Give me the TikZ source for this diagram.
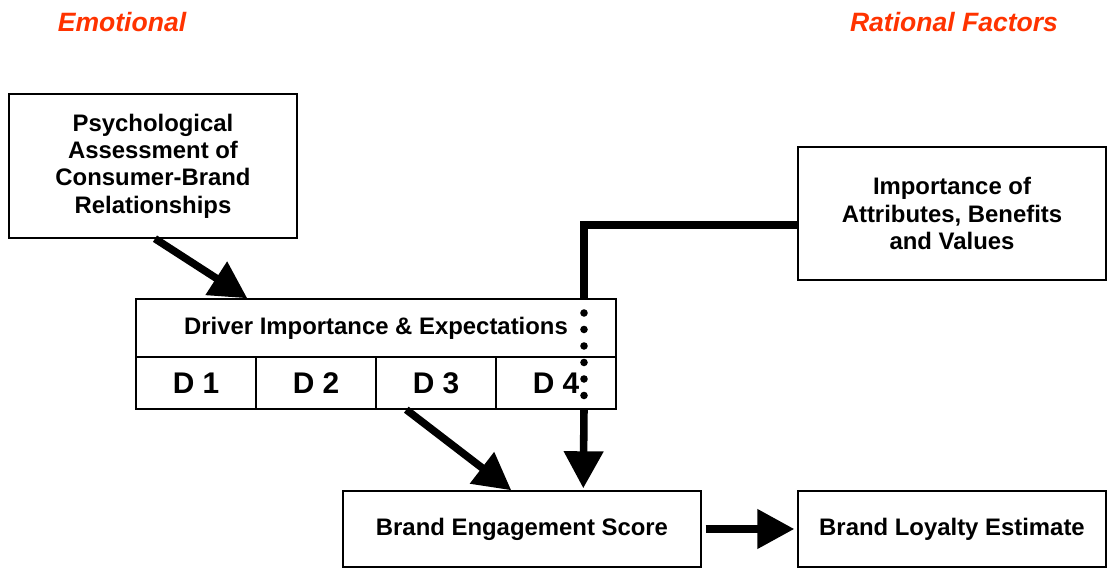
\documentclass[tikz,border=0pt]{standalone}
\usepackage{fontspec}
\setmainfont{Liberation Sans}
\usetikzlibrary{arrows.meta}
\definecolor{titlered}{RGB}{255,51,0}

\begin{document}
\begin{tikzpicture}[x=0.02cm, y=-0.02cm,
  box/.style={draw, line width=0.8pt, align=center, inner sep=0pt, font=\bfseries\fontsize{13.6}{15.6}\selectfont},
  cell/.style={draw, line width=0.8pt, inner sep=0pt, minimum width=2.4cm, minimum height=1.04cm, font=\bfseries\fontsize{17}{20}\selectfont},
  bigarrow/.style={line width=4.3pt, -{Triangle[length=0.74cm, width=0.76cm]}},
  title/.style={font=\bfseries\itshape\fontsize{15.1}{18}\selectfont, text=titlered}]
\useasboundingbox (0,0) rectangle (1110,573);
% Ueberschriften
\node[title] (emo) at (122,22) {Emotional};
\node[title] (rat) at (954,22) {Rational Factors};
% Kaesten
\node[box, minimum width=5.76cm, minimum height=2.88cm] (psych) at (153,166) {Psychological\\Assessment of\\Consumer-Brand\\Relationships};
\node[box, minimum width=6.16cm, minimum height=2.66cm] (imp) at (952,213.5) {Importance of\\Attributes, Benefits\\and Values};
\node[box, minimum width=9.6cm, minimum height=1.16cm] (driver) at (376,328) {Driver Importance \& Expectations};
\node[cell] (d1) at (196,383) {D 1};
\node[cell] (d2) at (316,383) {D 2};
\node[cell] (d3) at (436,383) {D 3};
\node[cell] (d4) at (556,383) {D 4};
\node[box, minimum width=7.16cm, minimum height=1.52cm] (engage) at (522,529) {Brand Engagement Score};
\node[box, minimum width=6.16cm, minimum height=1.52cm] (loyal) at (952,529) {Brand Loyalty Estimate};
% Verbindungen
\coordinate (dtop) at (584,299);
\coordinate (dbot) at (584,410);
\draw[bigarrow] ([xshift=0.04cm]psych.south) -- ([xshift=2.24cm]driver.north west);
\draw[bigarrow] ([xshift=0.62cm]d3.south west) -- ([xshift=3.38cm]engage.north west);
\draw[line width=4.3pt] ([yshift=-0.23cm]imp.west) -| (dtop);
\draw[line width=4.3pt, line cap=round, dash pattern=on 0pt off 0.33cm] ([yshift=-0.28cm]dtop) -- (dbot);
\draw[bigarrow] (dbot) -- ([xshift=4.82cm, yshift=0.04cm]engage.north west);
\draw[bigarrow] ([xshift=0.08cm]engage.east) -- ([xshift=-0.06cm]loyal.west);
\end{tikzpicture}
\end{document}
